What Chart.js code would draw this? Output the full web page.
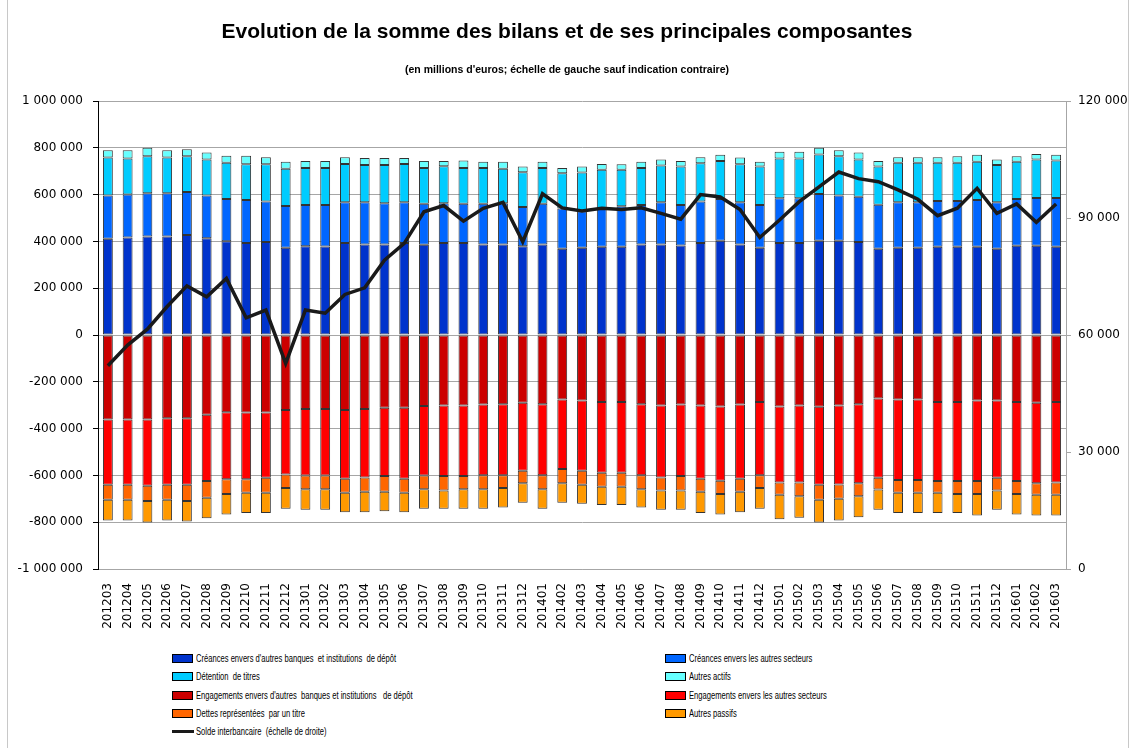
<!DOCTYPE html>
<html lang="fr">
<head>
<meta charset="utf-8">
<title>Evolution de la somme des bilans</title>
<script src="https://cdn.jsdelivr.net/npm/chart.js@4.4.1/dist/chart.umd.min.js"></script>
<style>
  body { margin: 0; background: #fff; }
  #wrap { position: relative; width: 1134px; height: 748px; overflow: hidden; }
  #frame { position: absolute; left: 7px; top: -2px; width: 1120px; height: 752px; border: 1px solid #c8c8c8; }
  #chart { position: absolute; left: 0; top: 0; }
  #legend { position: absolute; left: 172px; top: 653px; width: 900px; font-family: "Liberation Sans", sans-serif; font-size: 10px; color: #000; }
  .item { position: absolute; display: flex; align-items: center; white-space: pre; }
  .item .txt { display: inline-block; transform: scaleX(0.76); transform-origin: left center; }
  .box { width: 19px; height: 7px; border: 1px solid #000; margin-right: 3px; }
  .line { width: 22px; height: 3px; background: #1a1a1a; margin-right: 2px; }
</style>
</head>
<body>
<div id="wrap">
  <div id="frame"></div>
  <canvas id="chart" width="1134" height="640"></canvas>
  <div id="legend"></div>
</div>
<script>
// Périodes (AAAAMM)
const periods = [
  '201203', '201204', '201205', '201206', '201207', '201208', '201209', '201210', '201211', '201212',
  '201301', '201302', '201303', '201304', '201305', '201306', '201307', '201308', '201309', '201310', '201311', '201312',
  '201401', '201402', '201403', '201404', '201405', '201406', '201407', '201408', '201409', '201410', '201411', '201412',
  '201501', '201502', '201503', '201504', '201505', '201506', '201507', '201508', '201509', '201510', '201511', '201512',
  '201601', '201602', '201603'
];

// Actifs (millions d'euros)
const creancesBanques = [
  411000, 417000, 421000, 421000, 427000, 413000, 401000, 393000, 397000, 373000,
  379000, 378000, 393000, 387000, 387000, 393000, 386000, 393000, 393000, 387000, 387000, 379000,
  387000, 369000, 373000, 377000, 377000, 387000, 387000, 383000, 393000, 403000, 387000, 373000,
  393000, 393000, 403000, 403000, 397000, 369000, 373000, 373000, 377000, 377000, 377000, 369000,
  381000, 381000, 377000
];
const creancesSecteurs = [
  185000, 183000, 185000, 185000, 184000, 183000, 180000, 184000, 174000, 178000,
  177000, 178000, 174000, 180000, 176000, 174000, 175000, 170000, 168000, 174000, 176000, 168000,
  174000, 172000, 156000, 162000, 173000, 169000, 180000, 173000, 178000, 178000, 180000, 183000,
  191000, 191000, 200000, 193000, 194000, 188000, 194000, 194000, 196000, 196000, 200000, 198000,
  200000, 205000, 209000
];
const detentionTitres = [
  163000, 154000, 158000, 153000, 153000, 154000, 155000, 153000, 159000, 159000,
  158000, 158000, 164000, 159000, 163000, 164000, 153000, 158000, 153000, 153000, 147000, 149000,
  153000, 150000, 165000, 167000, 156000, 158000, 157000, 164000, 163000, 163000, 163000, 164000,
  170000, 170000, 168000, 168000, 159000, 163000, 169000, 169000, 163000, 163000, 163000, 159000,
  159000, 164000, 160000
];
const autresActifs = [
  31000, 35000, 36000, 31000, 30000, 30000, 30000, 36000, 30000, 30000,
  30000, 30000, 29000, 30000, 30000, 25000, 30000, 23000, 32000, 26000, 30000, 24000,
  26000, 23000, 26000, 25000, 24000, 26000, 26000, 24000, 26000, 26000, 29000, 20000,
  29000, 29000, 29000, 26000, 30000, 24000, 24000, 24000, 24000, 28000, 30000, 24000,
  24000, 24000, 24000
];

// Passifs (millions d'euros, en négatif)
const engagementsBanques = [
  -361000, -361000, -361000, -356000, -356000, -341000, -330000, -331000, -331000, -321000,
  -316000, -316000, -321000, -316000, -311000, -311000, -303000, -301000, -301000, -297000, -296000, -290000,
  -296000, -276000, -280000, -286000, -286000, -296000, -301000, -297000, -301000, -306000, -297000, -286000,
  -306000, -301000, -307000, -301000, -296000, -271000, -276000, -276000, -286000, -286000, -280000, -280000,
  -286000, -290000, -286000
];
const engagementsSecteurs = [
  -279000, -279000, -283000, -284000, -284000, -283000, -286000, -285000, -279000, -275000,
  -284000, -284000, -293000, -293000, -292000, -303000, -297000, -302000, -302000, -302000, -303000, -290000,
  -303000, -297000, -300000, -303000, -303000, -303000, -308000, -306000, -313000, -317000, -317000, -313000,
  -324000, -329000, -333000, -338000, -338000, -339000, -344000, -344000, -338000, -338000, -344000, -330000,
  -338000, -344000, -344000
];
const dettesTitre = [
  -64000, -64000, -65000, -64000, -69000, -72000, -64000, -58000, -64000, -58000,
  -59000, -59000, -60000, -61000, -67000, -60000, -59000, -61000, -56000, -60000, -55000, -54000,
  -60000, -61000, -60000, -60000, -60000, -60000, -55000, -61000, -56000, -56000, -56000, -55000,
  -53000, -59000, -64000, -61000, -55000, -50000, -54000, -54000, -50000, -55000, -55000, -54000,
  -55000, -49000, -53000
];
const autresPassifs = [
  -89000, -89000, -92000, -89000, -88000, -87000, -87000, -87000, -87000, -89000,
  -88000, -88000, -83000, -87000, -83000, -83000, -84000, -79000, -84000, -84000, -83000, -83000,
  -84000, -83000, -81000, -78000, -78000, -78000, -83000, -83000, -91000, -88000, -87000, -89000,
  -104000, -92000, -97000, -93000, -90000, -87000, -87000, -87000, -87000, -82000, -92000, -83000,
  -88000, -88000, -88000
];

// Solde interbancaire (échelle de droite)
const soldeInterbancaire = [
  52100, 57400, 61500, 67300, 72600, 69800, 74500, 64400, 66400, 52700,
  66400, 65600, 70400, 72100, 79200, 83500, 91600, 93200, 89200, 92500, 94000, 83900,
  96200, 92600, 91800, 92500, 92200, 92600, 91200, 89700, 96000, 95400, 92200, 85000,
  89500, 94200, 98000, 101800, 100100, 99300, 97200, 94800, 90600, 92500, 97600, 91200,
  93600, 88900, 93600
];

const barSeries = [
  { label: "Créances envers d'autres banques  et institutions  de dépôt", data: creancesBanques, color: '#0033CC' },
  { label: 'Créances envers les autres secteurs', data: creancesSecteurs, color: '#0066FF' },
  { label: 'Détention  de titres', data: detentionTitres, color: '#00CCFF' },
  { label: 'Autres actifs', data: autresActifs, color: '#66FFFF' },
  { label: "Engagements envers d'autres  banques et institutions   de dépôt", data: engagementsBanques, color: '#CC0000' },
  { label: 'Engagements envers les autres secteurs', data: engagementsSecteurs, color: '#FF0000' },
  { label: 'Dettes représentées  par un titre', data: dettesTitre, color: '#FF6600' },
  { label: 'Autres passifs', data: autresPassifs, color: '#FF9900' },
];
const lineLabel = 'Solde interbancaire  (échelle de droite)';

// 1000000 -> "1 000 000"
function formatNumber(v) {
  const s = String(Math.abs(Math.round(v))).replace(/\B(?=(\d{3})+(?!\d))/g, ' ');
  return (v < 0 ? '-' : '') + s;
}

const tickFont = { family: 'DejaVu Sans', size: 12 };
const gridColor = '#a6a6a6';

const datasets = barSeries.map((s) => ({
  type: 'bar',
  label: s.label,
  data: s.data,
  backgroundColor: s.color,
  borderColor: '#333',
  borderWidth: 1,
  borderSkipped: false,
  stack: 'bilan',
  yAxisID: 'y',
  order: 2,
  barPercentage: 0.5,
  categoryPercentage: 1,
}));

datasets.push({
  type: 'line',
  label: lineLabel,
  data: soldeInterbancaire,
  borderColor: '#1a1a1a',
  backgroundColor: '#1a1a1a',
  borderWidth: 3.5,
  pointRadius: 0,
  tension: 0,
  yAxisID: 'y1',
  order: 0,
});

const ctx = document.getElementById('chart').getContext('2d');
const chart = new Chart(ctx, {
  data: { labels: periods, datasets },
  options: {
    responsive: false,
    animation: false,
    devicePixelRatio: 1,
    layout: { padding: 0 },
    plugins: {
      legend: { display: false },
      tooltip: { enabled: false },
      title: {
        display: true,
        text: 'Evolution de la somme des bilans et de ses principales composantes',
        color: '#000',
        font: { family: 'Liberation Sans', size: 21, weight: 'bold' },
        padding: { top: 20, bottom: 13 },
      },
      subtitle: {
        display: true,
        text: "(en millions d'euros; échelle de gauche sauf indication contraire)",
        color: '#000',
        font: { family: 'Liberation Sans', size: 10.5, weight: 'bold' },
        padding: { top: 6, bottom: 24.2 },
      },
    },
    scales: {
      x: {
        stacked: true,
        grid: { display: false },
        border: { display: true, color: gridColor },
        ticks: {
          color: '#000',
          font: tickFont,
          minRotation: 90,
          maxRotation: 90,
          autoSkip: false,
          padding: 6,
        },
        afterFit: (scale) => { scale.height = 71; },
      },
      y: {
        position: 'left',
        stacked: true,
        min: -1000000,
        max: 1000000,
        grid: { color: gridColor, tickColor: '#000', tickLength: 5 },
        border: { display: true, color: '#000', width: 1 },
        ticks: {
          stepSize: 200000,
          color: '#000',
          font: tickFont,
          padding: 10,
          callback: (v) => formatNumber(v),
        },
        afterFit: (scale) => { scale.width = 98; },
      },
      y1: {
        position: 'right',
        min: 0,
        max: 120000,
        grid: { drawOnChartArea: false, color: gridColor, tickLength: 5 },
        border: { display: true, color: gridColor },
        ticks: {
          stepSize: 30000,
          color: '#000',
          font: tickFont,
          padding: 7,
          callback: (v) => formatNumber(v),
        },
        afterFit: (scale) => { scale.width = 68; },
      },
    },
  },
});

// Légende en deux colonnes, construite à partir des séries
function addLegendItem(legend, left, top, marker, text) {
  const item = document.createElement('div');
  item.className = 'item';
  item.style.left = left + 'px';
  item.style.top = top + 'px';
  item.appendChild(marker);
  const txt = document.createElement('span');
  txt.className = 'txt';
  txt.textContent = text;
  item.appendChild(txt);
  legend.appendChild(item);
}

function buildLegend() {
  const legend = document.getElementById('legend');
  const rowStep = 18.3;
  barSeries.forEach((s, i) => {
    const box = document.createElement('span');
    box.className = 'box';
    box.style.background = s.color;
    addLegendItem(legend, i % 2 === 0 ? 0 : 493, Math.floor(i / 2) * rowStep, box, s.label);
  });
  const ln = document.createElement('span');
  ln.className = 'line';
  addLegendItem(legend, 0, 4 * rowStep, ln, lineLabel);
}
buildLegend();
</script>
</body>
</html>
